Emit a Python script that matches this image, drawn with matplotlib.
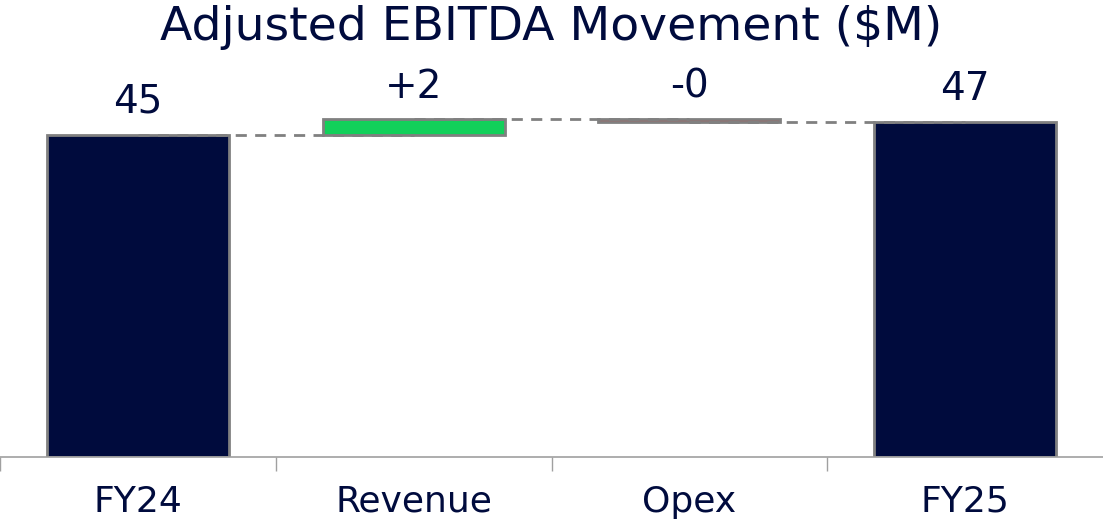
import matplotlib.pyplot as plt

categories = ["FY24", "Revenue", "Opex", "FY25"]
values = [45.0, 2.1, -0.3, 46.8]
kinds = ["total", "delta", "delta", "total"]

navy = "#000b3d"
green = "#12d05a"
red = "#e03030"
edge = "#808080"

plt.rcParams['font.family'] = ['DejaVu Sans']

fig = plt.figure(figsize=(11.03, 5.24), dpi=100)
ax = fig.add_axes([0, 1 - 457 / 524, 1, (457 - 60) / 524])

# waterfall bottoms / heights
bottoms = []
heights = []
running = 0
for v, k in zip(values, kinds):
    if k == "total":
        bottoms.append(0)
        heights.append(v)
        running = v
    else:
        bottoms.append(running if v >= 0 else running + v)
        heights.append(abs(v))
        running = running + v

colors = [navy if k == "total" else (green if v >= 0 else red) for v, k in zip(values, kinds)]
x = list(range(len(categories)))
ax.bar(x, heights, bottom=bottoms, width=0.66, color=colors, edgecolor=edge, linewidth=2, zorder=2)

# connector lines
levels = []
running = 0
for v, k in zip(values, kinds):
    running = v if k == "total" else running + v
    levels.append(running)
for i in range(len(x) - 1):
    ax.plot([x[i], x[i + 1]], [levels[i], levels[i]], ls=(0, (4, 3)), color=edge, lw=2, zorder=3)

# value labels
for i, (v, k) in enumerate(zip(values, kinds)):
    txt = f"{v:.0f}" if k == "total" else f"{v:+.0f}"
    top = bottoms[i] + heights[i]
    ax.annotate(txt, (x[i], top), xytext=(0, 10), textcoords="offset points",
                ha="center", va="bottom", fontsize=28, color=navy)

ax.set_xlim(-0.5, 3.5)
ax.set_ylim(0, 55.4)
for s in ["top", "right", "left"]:
    ax.spines[s].set_visible(False)
ax.spines["bottom"].set_color("#a0a0a0")
ax.spines["bottom"].set_linewidth(1.2)
ax.set_yticks([])

ax.set_xticks([-0.5, 0.5, 1.5, 2.5])
ax.set_xticklabels([])
ax.tick_params(axis="x", which="major", length=10, color="#a0a0a0", width=1)
ax.set_xticks(x, minor=True)
ax.set_xticklabels(categories, minor=True)
ax.tick_params(axis="x", which="minor", length=0, pad=20, labelsize=26, labelcolor=navy)

fig.text(0.5, 0.99, "Adjusted EBITDA Movement ($M)", ha="center", va="top", fontsize=34, color=navy)

fig.savefig("out.png", dpi=100)
